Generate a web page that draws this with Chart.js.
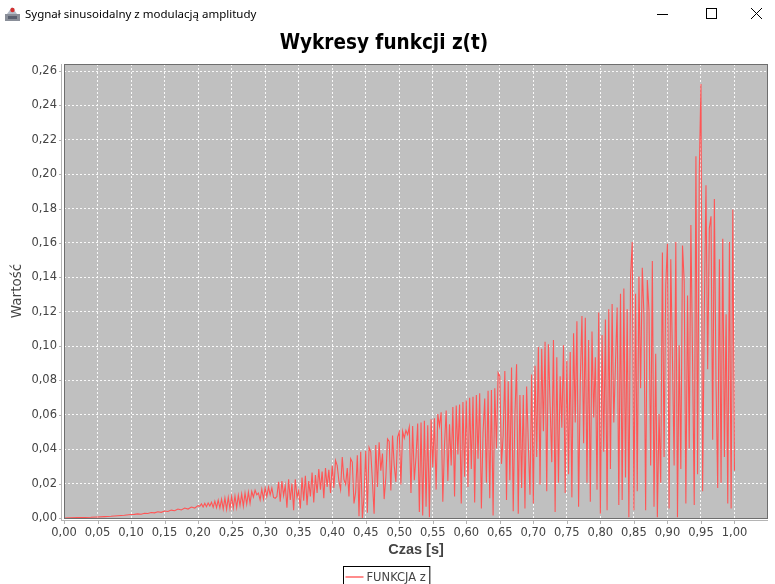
<!DOCTYPE html>
<html>
<head>
<meta charset="utf-8">
<script src="https://cdn.jsdelivr.net/npm/chart.js@4.4.1/dist/chart.umd.min.js"></script>
<style>
html,body{margin:0;padding:0;background:#fff;width:775px;height:584px;overflow:hidden;}
#wrap{position:absolute;left:0;top:0;width:775px;height:584px;}
#bar{position:absolute;left:0;top:0;width:775px;height:30px;font-family:"Noto Sans","DejaVu Sans",sans-serif;font-size:11.5px;color:#000;}
#bar .t{position:absolute;left:25px;top:6px;white-space:nowrap;}
#bar svg{position:absolute;}
</style>
</head>
<body>
<div id="wrap"><canvas id="c" width="775" height="584"></canvas></div>
<div id="bar">
  <svg style="left:4px;top:5px" width="17" height="17" viewBox="0 0 17 17">
    <rect x="1" y="9" width="15" height="7" fill="#8a8f99"/>
    <polygon points="3,9 8,2 13,9" fill="#b5bcc8"/>
    <circle cx="8.5" cy="5" r="2.2" fill="#d23030"/>
    <rect x="4" y="11" width="9" height="3" fill="#5a6070"/>
  </svg>
  <span class="t">Sygnał sinusoidalny z modulacją amplitudy</span>
  <svg style="left:655px;top:8px" width="16" height="14"><line x1="2" y1="6.5" x2="13" y2="6.5" stroke="#000" stroke-width="1"/></svg>
  <svg style="left:704px;top:6px" width="16" height="16"><rect x="2.5" y="2.5" width="10" height="10" fill="none" stroke="#000" stroke-width="1"/></svg>
  <svg style="left:749px;top:6px" width="16" height="16"><line x1="2" y1="2" x2="13" y2="13" stroke="#000" stroke-width="1"/><line x1="13" y1="2" x2="2" y2="13" stroke="#000" stroke-width="1"/></svg>
</div>
<script>
// ---- data ----
const chartTitle = "Wykresy funkcji z(t)";
const seriesLabel = "FUNKCJA z";
const xAxisTitle = "Czas [s]";
const yAxisTitle = "Wartość";

// early, smooth part of the signal
const earlyTimes = [0,0.01,0.02,0.03,0.04,0.05,0.06,0.07,0.08,0.09,0.1,
  0.105,0.11,0.115,0.12,0.125,0.13,0.135,0.14,0.145,0.15,0.155,0.16,0.165,0.17,0.175,0.18,0.185,0.19,0.195,0.2];
const earlyValues = [0,0.0001,0.0002,0.0003,0.0004,0.0006,0.0008,0.001,0.0013,0.0016,0.002,
  0.0021,0.0024,0.0022,0.0028,0.0026,0.0032,0.003,0.0036,0.0033,0.0041,0.0038,0.0046,0.0042,0.0052,0.0047,0.0058,0.0052,0.0064,0.0058,0.0072];

// dense part, sampled every 0.0025 s from 0.2025 to 1.0
const denseStart = 0.2;
const denseStep = 0.0025;
const denseValues = [
  // 0.20 - 0.25
  0.0068,0.0082,0.0064,0.0086,0.0066,0.0088,0.007,0.0092,0.0062,0.0098,0.006,0.0104,0.0058,0.011,0.0052,0.0116,0.005,0.012,0.0055,0.0125,
  // 0.25 - 0.30
  0.0058,0.0128,0.006,0.0132,0.0072,0.014,0.0068,0.0145,0.008,0.015,0.0085,0.0155,0.0122,0.0162,0.0135,0.0145,0.0105,0.0168,0.011,0.0175,
  // 0.30 - 0.35
  0.0125,0.018,0.0135,0.0175,0.012,0.0115,0.0125,0.021,0.0095,0.0215,0.013,0.019,0.006,0.0225,0.0105,0.02,0.0045,0.0225,0.012,0.016,
  // 0.35 - 0.40
  0.0055,0.0235,0.01,0.0245,0.0075,0.0215,0.0125,0.0265,0.009,0.025,0.0145,0.0285,0.0165,0.027,0.0115,0.029,0.018,0.028,0.0145,0.0305,
  // 0.40 - 0.45
  0.0175,0.0335,0.0305,0.0215,0.0165,0.0355,0.0225,0.0195,0.029,0.0125,0.0345,0.0325,0.0085,0.015,0.0365,0.001,0.0385,0.0,0.0125,0.039,
  // 0.45 - 0.50
  0.003,0.041,0.0385,0.0215,0.0025,0.0425,0.018,0.044,0.0275,0.0375,0.011,0.0235,0.046,0.0445,0.016,0.048,0.0305,0.021,0.047,0.05,
  // 0.50 - 0.55
  0.0195,0.0505,0.0465,0.051,0.0485,0.053,0.0145,0.0535,0.022,0.0355,0.055,0.0035,0.0555,0.0015,0.0565,0.0065,0.054,0.0005,0.0575,0.0295,
  // 0.55 - 0.60
  0.058,0.0165,0.0605,0.0535,0.0615,0.0095,0.0425,0.0625,0.0215,0.0545,0.0305,0.0645,0.0125,0.0655,0.037,0.066,0.0085,0.0675,0.024,0.0685,
  // 0.60 - 0.65
  0.018,0.07,0.0285,0.0705,0.009,0.0715,0.0345,0.0725,0.0055,0.0495,0.0695,0.0205,0.074,0.0115,0.0745,0.0015,0.0755,0.0405,0.0845,0.0825,
  // 0.65 - 0.70
  0.0315,0.048,0.0855,0.0105,0.0795,0.022,0.0875,0.004,0.0595,0.0895,0.0025,0.0715,0.0175,0.0715,0.0055,0.0765,0.0435,0.0135,0.0835,0.0085,
  // 0.70 - 0.75
  0.0885,0.0355,0.0995,0.0195,0.0985,0.0505,0.1025,0.0155,0.101,0.0655,0.0325,0.1035,0.0035,0.0935,0.0205,0.0825,0.0525,0.1005,0.0145,0.0915,
  // 0.75 - 0.80
  0.0255,0.0965,0.012,0.1075,0.0555,0.1145,0.0065,0.0785,0.1175,0.0435,0.1165,0.0205,0.1035,0.0095,0.1085,0.0585,0.0935,0.0165,0.1195,0.0025,
  // 0.80 - 0.85
  0.1065,0.0385,0.1155,0.0045,0.1215,0.0285,0.1245,0.0555,0.0895,0.1225,0.0075,0.1305,0.0105,0.1335,0.0235,0.1215,0.0005,0.1405,0.1605,0.0045,
  // 0.85 - 0.90
  0.1305,0.0155,0.1405,0.0755,0.1455,0.1175,0.0045,0.1385,0.1205,0.0305,0.1495,0.0065,0.0955,0.0005,0.0605,0.0205,0.1545,0.0355,0.1355,0.1595,
  // 0.90 - 0.95
  0.0055,0.1505,0.0925,0.0305,0.1605,0.0005,0.1005,0.0285,0.1585,0.1375,0.0085,0.1295,0.0405,0.1705,0.0915,0.0075,0.2105,0.0255,0.2005,0.2525,
  // 0.95 - 1.00
  0.0155,0.1195,0.1935,0.0865,0.1685,0.1755,0.0455,0.1855,0.0775,0.0175,0.1505,0.0205,0.1625,0.0355,0.1185,0.0085,0.1605,0.0055,0.1795,0.0275
];

// axis settings
const xMin = 0, xMax = 1.05, xStep = 0.05, xLastLabel = 1.0;
const yMin = 0, yMax = 0.2641, yStep = 0.02, yLastLabel = 0.26;

// ---- build points ----
const points = [];
earlyTimes.forEach((t, i) => points.push({x: t, y: earlyValues[i]}));
denseValues.forEach((v, i) => points.push({x: +(denseStart + (i + 1) * denseStep).toFixed(4), y: v}));

const fmt = v => Number(v).toFixed(2).replace('.', ',');
const onStep = (v, s) => Math.abs(v / s - Math.round(v / s)) < 1e-6;

const tickFont = {family: '"DejaVu Sans", sans-serif', size: 11.5};
const PLOT_BG = '#c0c0c0';

const framePlugin = {
  id: 'frame',
  beforeDraw(chart) {
    const {ctx, chartArea: a} = chart;
    ctx.save();
    ctx.fillStyle = PLOT_BG;
    ctx.fillRect(a.left, a.top, a.right - a.left, a.bottom - a.top);
    ctx.restore();
  },
  afterDraw(chart) {
    const {ctx, chartArea: a} = chart;
    const xs = chart.scales.x, ys = chart.scales.y;
    ctx.save();
    // plot outline
    ctx.strokeStyle = '#6e6e6e';
    ctx.lineWidth = 1;
    ctx.strokeRect(a.left + 0.5, a.top + 0.5, a.right - a.left - 1, a.bottom - a.top);
    // axis lines (offset from plot)
    ctx.strokeStyle = '#b4b4b4';
    ctx.beginPath();
    ctx.moveTo(a.left - 2.5, a.top);
    ctx.lineTo(a.left - 2.5, a.bottom + 3);
    ctx.moveTo(a.left - 3, a.bottom + 2.5);
    ctx.lineTo(a.right, a.bottom + 2.5);
    ctx.stroke();
    // tick marks
    ctx.beginPath();
    ys.ticks.forEach(t => {
      const y = Math.round(ys.getPixelForValue(t.value)) + 0.5;
      ctx.moveTo(a.left - 5, y); ctx.lineTo(a.left - 2, y);
    });
    xs.ticks.forEach(t => {
      const x = Math.round(xs.getPixelForValue(t.value)) + 0.5;
      ctx.moveTo(x, a.bottom + 3); ctx.lineTo(x, a.bottom + 6);
    });
    ctx.stroke();
    // legend
    const label = chart.data.datasets[0].label;
    ctx.font = '11.5px "DejaVu Sans", sans-serif';
    const tw = ctx.measureText(label).width;
    const bw = 2 + 19 + 3 + tw + 3;
    const cx = 386;
    const bx = Math.round(cx - bw / 2) + 0.5;
    const by = 566.5;
    ctx.strokeStyle = '#000';
    ctx.strokeRect(bx, by, bw, 30);
    ctx.strokeStyle = '#ff8c8c';
    ctx.lineWidth = 2;
    ctx.beginPath();
    ctx.moveTo(bx + 2, 577); ctx.lineTo(bx + 20, 577);
    ctx.stroke();
    ctx.fillStyle = '#444';
    ctx.textBaseline = 'alphabetic';
    ctx.fillText(label, bx + 23, 581);
    ctx.restore();
  }
};

new Chart(document.getElementById('c'), {
  type: 'line',
  data: {
    datasets: [{
      label: seriesLabel,
      data: points,
      borderColor: '#ff5555',
      borderWidth: 1.1,
      pointRadius: 0,
      tension: 0,
      fill: false
    }]
  },
  options: {
    responsive: false,
    animation: false,
    devicePixelRatio: 1,
    layout: {padding: {left: 0, right: 7, top: 30, bottom: 18}},
    plugins: {
      legend: {display: false},
      tooltip: {enabled: false},
      title: {
        display: true,
        text: chartTitle,
        color: '#000',
        font: {family: '"Liberation Sans Narrow", "DejaVu Sans Condensed", sans-serif', size: 20.5, weight: 'bold', lineHeight: 1.2},
        padding: {top: 1.5, bottom: 7.9}
      }
    },
    scales: {
      x: {
        type: 'linear',
        min: xMin, max: xMax,
        afterBuildTicks: s => { s.ticks = s.ticks.filter(t => onStep(t.value, xStep) && t.value <= xLastLabel + 1e-6); },
        afterFit: s => { s.height = 48; },
        ticks: {stepSize: xStep, includeBounds: false, callback: v => fmt(v), font: tickFont, color: '#444', padding: 8, maxRotation: 0, autoSkip: false},
        grid: {color: 'rgba(255,255,255,0.9)', lineWidth: 1, drawTicks: false, borderDash: [2, 2]},
        border: {display: false, dash: [2, 2]},
        title: {display: true, text: xAxisTitle, color: '#444',
          font: {family: '"Liberation Sans", Arial, sans-serif', size: 14.5, weight: 'bold', lineHeight: 1.2},
          padding: {top: 0, bottom: 7}}
      },
      y: {
        type: 'linear',
        min: yMin, max: yMax,
        afterBuildTicks: s => { s.ticks = s.ticks.filter(t => onStep(t.value, yStep) && t.value <= yLastLabel + 1e-6); },
        afterFit: s => { s.width = 64; },
        ticks: {stepSize: yStep, includeBounds: false, callback: v => fmt(v), font: tickFont, color: '#444', padding: 7},
        grid: {color: 'rgba(255,255,255,0.9)', lineWidth: 1, drawTicks: false, borderDash: [2, 2]},
        border: {display: false, dash: [2, 2]},
        title: {display: true, text: yAxisTitle, color: '#444',
          font: {family: '"DejaVu Sans", sans-serif', size: 13.5, lineHeight: 1.2},
          padding: {top: 9, bottom: 0}}
      }
    }
  },
  plugins: [framePlugin]
});
</script>
</body>
</html>
